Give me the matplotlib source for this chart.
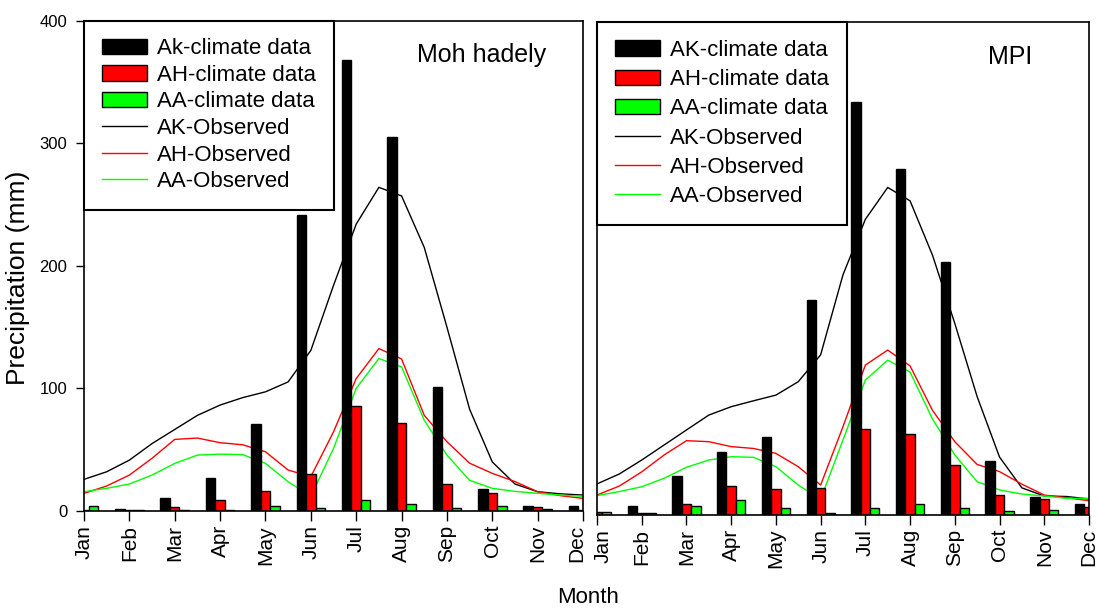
import matplotlib
matplotlib.use("Agg")
import matplotlib.pyplot as plt
import matplotlib.transforms as mtransforms
import numpy as np

plt.rcParams['font.family'] = ['Liberation Sans', 'DejaVu Sans']

months = ['Jan', 'Feb', 'Mar', 'Apr', 'May', 'Jun', 'Jul', 'Aug', 'Sep', 'Oct', 'Nov', 'Dec']

# climate model data (bars), mm
mh_ak = [3, 1.5, 10.3, 27, 71, 241.7, 368, 305, 101, 18, 4.3, 4.3]
mh_ah = [0.5, 1, 3, 8.6, 16.3, 29.9, 85.5, 72, 22.3, 15, 3, 1]
mh_aa = [4, 1, 1, 1, 4, 2.7, 9, 5.7, 2.7, 4, 1.4, 1]

mpi_ak = [2, 7.6, 32, 51.4, 63.6, 174.4, 335, 281, 205.5, 43.8, 14.6, 9.2]
mpi_ah = [2.5, 1.5, 8.8, 23.6, 21, 22.2, 70, 66, 40.6, 16.2, 13.2, 6.5]
mpi_aa = [2.5, 1.5, 7.3, 12, 6, 1.9, 6, 8.6, 5.6, 3.2, 4.3, 1]

# observed curves, read every half month (Jan .. Dec)
obs_t = np.arange(0, 11.5, 0.5)
mh_obs_ak = [25.8, 32, 41.5, 55, 66.5, 78, 86.4, 92.5, 97.2, 105.3, 131, 184,
             234, 264, 257, 215, 150, 83, 40, 22, 15.7, 14, 13]
mh_obs_ah = [14.4, 20.4, 29.3, 43, 58.4, 59.5, 55.7, 54, 48.3, 33.4, 28, 64.6,
             108, 132.5, 124, 78, 56.5, 39, 30.7, 24, 15.7, 12.5, 10.3]
mh_obs_aa = [15.7, 18.5, 22, 29.3, 38.8, 45.6, 46.4, 46, 38.8, 23.9, 12, 51,
             100, 124.4, 117.6, 74, 45.6, 25, 18.5, 16, 14.4, 13, 12]

mpi_obs_ak = [25.2, 33.3, 44.6, 56.8, 69, 81.1, 87.9, 92.7, 97.3, 108.2, 130, 195,
              240, 265.9, 255, 211, 155.5, 96, 47, 22, 15.4, 15, 13]
mpi_obs_ah = [16.2, 23.5, 35, 48.7, 60.3, 59.5, 55.5, 54, 50, 39.2, 24.3, 71.7,
              121.7, 133.9, 121, 85, 59.5, 41, 35.2, 25, 16.2, 14, 11.6]
mpi_obs_aa = [15.7, 19, 22.9, 29.8, 38.7, 44.6, 47.3, 46.8, 39.2, 24.3, 12.7, 60.9,
              109.5, 125.7, 116, 78, 48.7, 27, 20.3, 17, 15.4, 13.5, 13.5]

GREEN = '#00ff00'


def panel(ax, ak, ah, aa, o_ak, o_ah, o_aa, first_label, title, title_x, spacing, bpad):
    x = np.arange(len(months))
    w = 0.21
    b1 = ax.bar(x - w, ak, w, color='black', edgecolor='black', linewidth=1, zorder=2)
    b2 = ax.bar(x, ah, w, color='red', edgecolor='black', linewidth=1, zorder=2)
    b3 = ax.bar(x + w, aa, w, color=GREEN, edgecolor='black', linewidth=1, zorder=2)
    l1, = ax.plot(obs_t, o_ak, color='black', lw=1, zorder=1)
    l2, = ax.plot(obs_t, o_ah, color='red', lw=1, zorder=1)
    l3, = ax.plot(obs_t, o_aa, color=GREEN, lw=1, zorder=1)

    ax.set_xlim(0, 11)
    ax.set_ylim(0, 400)
    ax.set_xticks(x)
    ax.set_xticklabels(months, rotation=90, fontsize=15)
    ax.tick_params(axis='x', direction='out', length=7, width=1, pad=3)

    leg = ax.legend([b1, b2, b3, l1, l2, l3],
                    [first_label, 'AH-climate data', 'AA-climate data',
                     'AK-Observed', 'AH-Observed', 'AA-Observed'],
                    loc='upper left', borderaxespad=0, fontsize=16,
                    fancybox=False, framealpha=1, edgecolor='black',
                    handlelength=2.05, handletextpad=0.45, borderpad=bpad,
                    labelspacing=spacing)
    leg.get_frame().set_linewidth(1.5)
    leg.set_zorder(5)
    ax.text(title_x, 0.93, title, transform=ax.transAxes, fontsize=18,
            va='center', ha='left')
    for s in ax.spines.values():
        s.set_linewidth(1.2)


fig = plt.figure(figsize=(10.98, 6.13), dpi=100)
ax1 = fig.add_axes([0.0765, 0.1664, 0.4545, 0.800])
ax2 = fig.add_axes([0.5437, 0.1599, 0.4481, 0.8038])

panel(ax1, mh_ak, mh_ah, mh_aa, mh_obs_ak, mh_obs_ah, mh_obs_aa,
      'Ak-climate data', 'Moh hadely', 0.667, 0.25, 0.8)
panel(ax2, mpi_ak, mpi_ah, mpi_aa, mpi_obs_ak, mpi_obs_ah, mpi_obs_aa,
      'AK-climate data', 'MPI', 0.795, 0.37, 0.8)

ax1.set_yticks([0, 100, 200, 300, 400])
ax1.tick_params(axis='y', direction='out', length=6, width=1, labelsize=12, pad=6)
ax2.set_yticks([])

# keep the neighbouring "Dec" and "Jan" labels apart
fig.canvas.draw()
dec = ax1.get_xticklabels()[-1]
dec.set_transform(dec.get_transform() +
                  mtransforms.ScaledTranslation(-0.06, 0, fig.dpi_scale_trans))
jan = ax2.get_xticklabels()[0]
jan.set_transform(jan.get_transform() +
                  mtransforms.ScaledTranslation(0.06, 0, fig.dpi_scale_trans))

fig.text(0.0164, 0.5465, 'Precipitation (mm)', rotation=90, fontsize=19,
         ha='center', va='center')
fig.text(0.5355, 0.026, 'Month', fontsize=16, ha='center', va='center')

fig.savefig('out.png', dpi=100)
